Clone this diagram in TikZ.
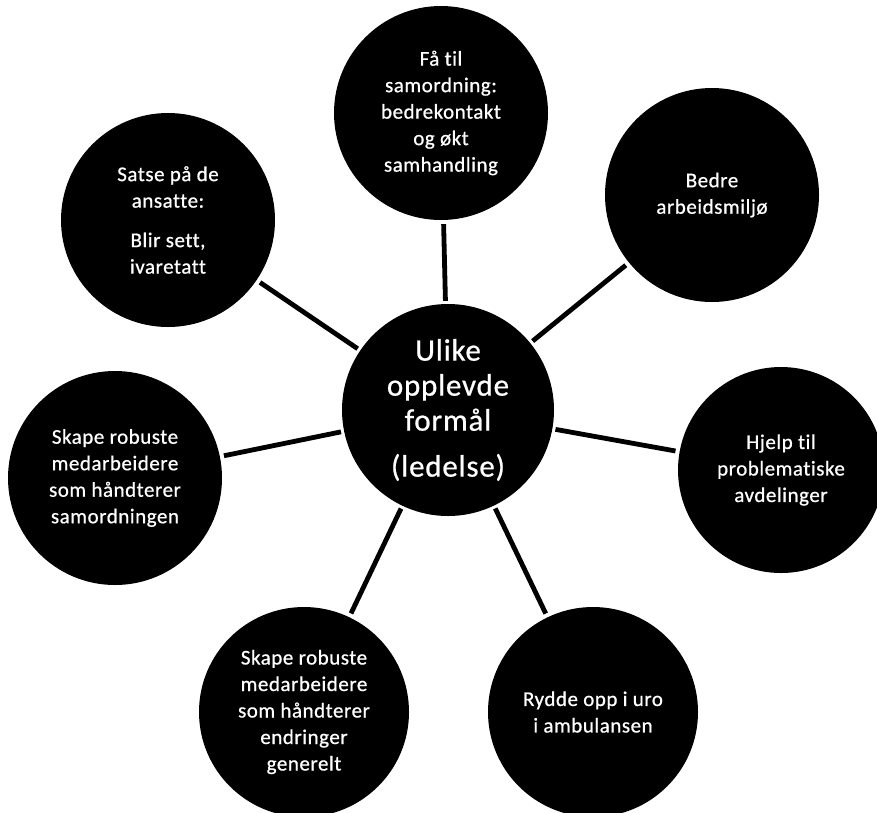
\documentclass[tikz,border=0pt]{standalone}
\usepackage{fontspec}
\setmainfont{Carlito}[Ligatures=NoCommon, FakeBold=0.7, LetterSpace=2.5]
\begin{document}
\begin{tikzpicture}[x=1pt,y=-1pt,
  goal/.style={circle, fill=black, text=white, inner sep=0pt,
    minimum size=214pt, align=center,
    font=\fontsize{21}{26.5}\selectfont},
  hub/.style={circle, fill=black, text=white, inner sep=0pt,
    minimum size=212pt, align=center,
    font=\fontsize{31}{35}\selectfont},
  link/.style={line width=4.8pt, black, shorten <=3pt, shorten >=4pt}]
\useasboundingbox (0,0) rectangle (877,812);

% central purpose
\node[hub] (hub) at (448,410) {Ulike\\opplevde\\formål\\[11pt](ledelse)};

% surrounding purposes
\node[goal] (top) at (441,113)
  {Få til\\samordning:\\bedrekontakt\\og økt\\samhandling};
\node[goal] (staff) at (168,220)
  {Satse på de\\ansatte:\\[13pt]Blir sett,\\ivaretatt};
\node[goal] (env) at (712,195) {Bedre\\arbeidsmiljø};
\node[goal, minimum size=206pt] (help) at (781,470)
  {Hjelp til\\problematiske\\avdelinger};
\node[goal] (robust) at (115,478)
  {Skape robuste\\medarbeidere\\som håndterer\\samordningen};
\node[goal, minimum size=210pt] (change) at (304,712)
  {Skape robuste\\medarbeidere\\som håndterer\\endringer\\generelt};
\node[goal, minimum size=210pt] (ambul) at (593,712)
  {Rydde opp i uro\\i ambulansen};

% spokes
\foreach \n in {top, staff, env, help, robust, change, ambul}
  \draw[link] (hub) -- (\n);
\end{tikzpicture}
\end{document}
